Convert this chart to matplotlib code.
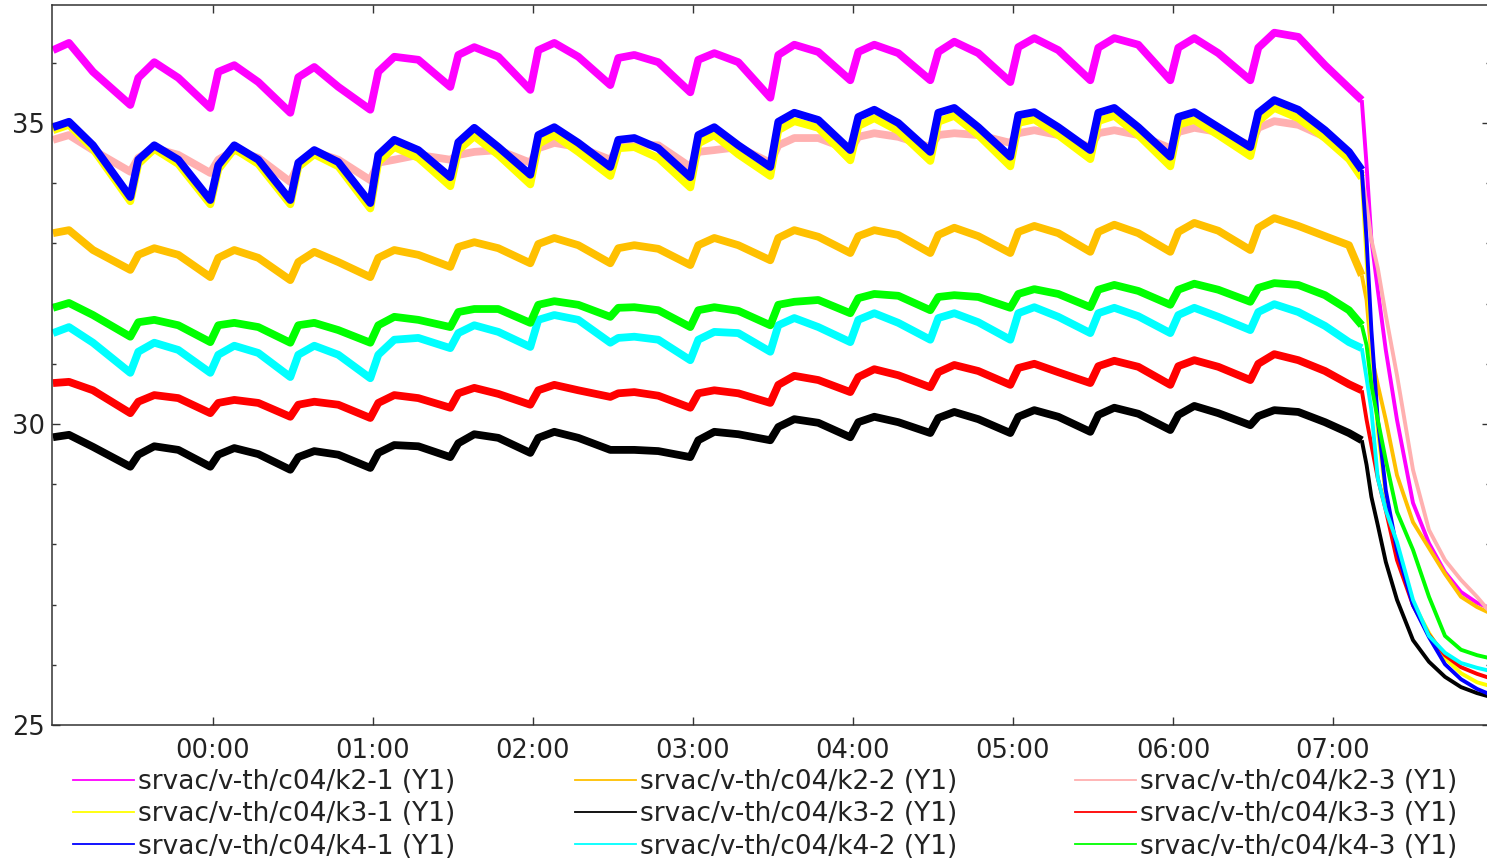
import matplotlib
matplotlib.use("Agg")
import matplotlib.pyplot as plt
import matplotlib.dates as mdates
from matplotlib.ticker import MultipleLocator, FixedLocator
from matplotlib.lines import Line2D
from datetime import datetime

# ---------------- data ----------------
times = ["23:00:00", "23:06:00", "23:15:00",
         "23:29:00", "23:32:00", "23:38:00", "23:47:00",
         "23:59:00", "00:02:00", "00:08:00", "00:17:00",
         "00:29:00", "00:32:00", "00:38:00", "00:47:00",
         "00:59:00", "01:02:00", "01:08:00", "01:17:00",
         "01:29:00", "01:32:00", "01:38:00", "01:47:00",
         "01:59:00", "02:02:00", "02:08:00", "02:17:00",
         "02:29:00", "02:32:00", "02:38:00", "02:47:00",
         "02:59:00", "03:02:00", "03:08:00", "03:17:00",
         "03:29:00", "03:32:00", "03:38:00", "03:47:00",
         "03:59:00", "04:02:00", "04:08:00", "04:17:00",
         "04:29:00", "04:32:00", "04:38:00", "04:47:00",
         "04:59:00", "05:02:00", "05:08:00", "05:17:00",
         "05:29:00", "05:32:00", "05:38:00", "05:47:00",
         "05:59:00", "06:02:00", "06:08:00", "06:17:00",
         "06:29:00", "06:32:00", "06:38:00", "06:47:00", "06:57:00", "07:06:00",
         "07:10:48", "07:12:36", "07:14:24", "07:16:48", "07:19:48", "07:24:00",
         "07:30:00", "07:36:00", "07:42:00", "07:48:00", "07:54:00", "07:58:48"]

k2_1 = [36.21, 36.33, 35.85,
        35.30, 35.75, 36.01, 35.75,
        35.25, 35.85, 35.96, 35.68,
        35.17, 35.76, 35.93, 35.60,
        35.22, 35.85, 36.10, 36.05,
        35.60, 36.13, 36.26, 36.10,
        35.55, 36.21, 36.33, 36.10,
        35.63, 36.08, 36.13, 36.01,
        35.51, 36.05, 36.16, 36.01,
        35.42, 36.13, 36.30, 36.18,
        35.71, 36.18, 36.30, 36.16,
        35.71, 36.18, 36.35, 36.16,
        35.68, 36.26, 36.41, 36.21,
        35.71, 36.25, 36.41, 36.30,
        35.71, 36.25, 36.41, 36.16,
        35.71, 36.25, 36.50, 36.43, 35.96, 35.58,
        35.38, 34.30, 33.06, 32.23, 31.23, 30.07, 28.69, 28.02, 27.54, 27.21, 27.03, 26.94]

k2_2 = [33.17, 33.22, 32.89,
        32.56, 32.81, 32.92, 32.81,
        32.44, 32.76, 32.89, 32.76,
        32.39, 32.69, 32.86, 32.69,
        32.44, 32.76, 32.89, 32.81,
        32.61, 32.94, 33.02, 32.92,
        32.67, 32.99, 33.09, 32.97,
        32.67, 32.92, 32.97, 32.91,
        32.64, 32.97, 33.09, 32.97,
        32.72, 33.09, 33.22, 33.11,
        32.84, 33.12, 33.22, 33.14,
        32.84, 33.14, 33.26, 33.12,
        32.84, 33.19, 33.29, 33.17,
        32.86, 33.19, 33.31, 33.17,
        32.86, 33.19, 33.34, 33.21,
        32.89, 33.26, 33.42, 33.29, 33.12, 32.97,
        32.47, 32.06, 31.15, 30.65, 30.07, 29.15, 28.37, 27.94, 27.51, 27.13, 26.96, 26.86]

k2_3 = [34.72, 34.80, 34.55,
        34.19, 34.42, 34.58, 34.47,
        34.17, 34.39, 34.55, 34.42,
        34.02, 34.30, 34.52, 34.39,
        34.05, 34.34, 34.39, 34.47,
        34.39, 34.47, 34.52, 34.55,
        34.34, 34.58, 34.67, 34.60,
        34.39, 34.60, 34.63, 34.63,
        34.27, 34.52, 34.55, 34.60,
        34.34, 34.63, 34.75, 34.75,
        34.55, 34.77, 34.83, 34.77,
        34.60, 34.80, 34.83, 34.80,
        34.67, 34.83, 34.88, 34.80,
        34.60, 34.83, 34.88, 34.80,
        34.58, 34.85, 34.92, 34.85,
        34.63, 34.92, 35.03, 34.97, 34.77, 34.47,
        34.14, 33.64, 33.06, 32.59, 31.81, 30.81, 29.24, 28.24, 27.74, 27.41, 27.13, 26.88]

k3_1 = [34.88, 34.97, 34.57,
        33.70, 34.32, 34.57, 34.32,
        33.65, 34.23, 34.57, 34.32,
        33.65, 34.27, 34.48, 34.28,
        33.58, 34.35, 34.60, 34.42,
        33.95, 34.55, 34.78, 34.47,
        33.98, 34.65, 34.80, 34.52,
        34.12, 34.58, 34.60, 34.42,
        33.93, 34.66, 34.80, 34.48,
        34.12, 34.88, 35.03, 34.92,
        34.38, 34.95, 35.08, 34.87,
        34.37, 35.02, 35.12, 34.80,
        34.28, 35.00, 35.06, 34.80,
        34.40, 35.03, 35.12, 34.80,
        34.28, 34.97, 35.05, 34.80,
        34.45, 35.03, 35.25, 35.08, 34.75, 34.40,
        34.09, 32.72, 31.31, 29.90, 28.82, 27.87, 27.03, 26.53, 26.11, 25.86, 25.71, 25.65]

k3_2 = [29.78, 29.82, 29.62,
        29.29, 29.49, 29.63, 29.57,
        29.29, 29.49, 29.60, 29.50,
        29.24, 29.45, 29.55, 29.49,
        29.27, 29.52, 29.65, 29.63,
        29.45, 29.68, 29.83, 29.77,
        29.52, 29.77, 29.87, 29.77,
        29.57, 29.57, 29.57, 29.55,
        29.45, 29.73, 29.87, 29.83,
        29.73, 29.95, 30.08, 30.02,
        29.78, 30.03, 30.12, 30.03,
        29.85, 30.10, 30.20, 30.08,
        29.85, 30.12, 30.23, 30.12,
        29.87, 30.15, 30.27, 30.17,
        29.90, 30.15, 30.30, 30.18,
        29.98, 30.13, 30.23, 30.20, 30.03, 29.85,
        29.73, 29.32, 28.79, 28.32, 27.71, 27.08, 26.41, 26.05, 25.80, 25.63, 25.53, 25.47]

k3_3 = [30.68, 30.70, 30.56,
        30.18, 30.37, 30.48, 30.43,
        30.18, 30.35, 30.40, 30.35,
        30.12, 30.32, 30.37, 30.32,
        30.10, 30.35, 30.48, 30.43,
        30.27, 30.51, 30.60, 30.50,
        30.32, 30.56, 30.65, 30.56,
        30.45, 30.51, 30.53, 30.47,
        30.27, 30.51, 30.56, 30.51,
        30.35, 30.65, 30.80, 30.73,
        30.53, 30.78, 30.91, 30.81,
        30.61, 30.86, 30.98, 30.88,
        30.65, 30.93, 31.00, 30.86,
        30.68, 30.96, 31.05, 30.95,
        30.65, 30.96, 31.06, 30.95,
        30.73, 31.00, 31.16, 31.06, 30.88, 30.66,
        30.56, 30.07, 29.65, 29.10, 28.57, 27.74, 26.99, 26.50, 26.16, 25.96, 25.85, 25.78]

k4_1 = [34.93, 35.02, 34.63,
        33.77, 34.39, 34.63, 34.39,
        33.72, 34.30, 34.63, 34.39,
        33.72, 34.34, 34.55, 34.35,
        33.67, 34.47, 34.72, 34.55,
        34.10, 34.68, 34.92, 34.60,
        34.14, 34.80, 34.93, 34.67,
        34.27, 34.72, 34.75, 34.58,
        34.10, 34.80, 34.93, 34.63,
        34.27, 35.02, 35.17, 35.05,
        34.55, 35.10, 35.22, 35.00,
        34.52, 35.17, 35.25, 34.93,
        34.44, 35.13, 35.18, 34.93,
        34.55, 35.17, 35.25, 34.93,
        34.44, 35.10, 35.18, 34.93,
        34.60, 35.17, 35.38, 35.22, 34.88, 34.52,
        34.22, 33.06, 31.56, 30.07, 28.90, 27.91, 26.99, 26.46, 26.01, 25.76, 25.60, 25.51]

k4_2 = [31.51, 31.61, 31.35,
        30.85, 31.20, 31.35, 31.23,
        30.85, 31.15, 31.30, 31.18,
        30.78, 31.15, 31.30, 31.15,
        30.76, 31.15, 31.40, 31.43,
        31.26, 31.51, 31.64, 31.53,
        31.28, 31.73, 31.81, 31.73,
        31.35, 31.43, 31.45, 31.40,
        31.06, 31.40, 31.53, 31.51,
        31.20, 31.64, 31.76, 31.61,
        31.36, 31.73, 31.84, 31.68,
        31.40, 31.76, 31.84, 31.69,
        31.40, 31.84, 31.94, 31.78,
        31.51, 31.84, 31.93, 31.79,
        31.51, 31.81, 31.93, 31.78,
        31.56, 31.86, 31.99, 31.86, 31.63, 31.36,
        31.26, 30.76, 30.23, 29.10, 28.57, 28.04, 27.08, 26.48, 26.20, 26.03, 25.95, 25.90]

k4_3 = [31.93, 32.01, 31.81,
        31.45, 31.69, 31.73, 31.64,
        31.36, 31.64, 31.68, 31.61,
        31.35, 31.64, 31.68, 31.56,
        31.35, 31.64, 31.78, 31.73,
        31.61, 31.86, 31.91, 31.91,
        31.68, 31.98, 32.04, 31.98,
        31.78, 31.93, 31.94, 31.89,
        31.61, 31.89, 31.94, 31.88,
        31.64, 31.98, 32.03, 32.06,
        31.84, 32.09, 32.16, 32.13,
        31.89, 32.11, 32.14, 32.11,
        31.93, 32.16, 32.24, 32.16,
        31.94, 32.23, 32.31, 32.21,
        31.98, 32.23, 32.33, 32.23,
        32.03, 32.26, 32.34, 32.31, 32.14, 31.89,
        31.64, 31.31, 30.65, 30.07, 29.40, 28.54, 27.91, 27.13, 26.48, 26.25, 26.16, 26.11]

labels = ["srvac/v-th/c04/k2-1 (Y1)", "srvac/v-th/c04/k2-2 (Y1)", "srvac/v-th/c04/k2-3 (Y1)",
          "srvac/v-th/c04/k3-1 (Y1)", "srvac/v-th/c04/k3-2 (Y1)", "srvac/v-th/c04/k3-3 (Y1)",
          "srvac/v-th/c04/k4-1 (Y1)", "srvac/v-th/c04/k4-2 (Y1)", "srvac/v-th/c04/k4-3 (Y1)"]
series = [k2_1, k2_2, k2_3, k3_1, k3_2, k3_3, k4_1, k4_2, k4_3]
colors = ["#ff00ff", "#ffc000", "#ffb0b0", "#ffff00", "#000000", "#ff0000",
          "#0000ff", "#00ffff", "#00ff00"]
y_ticks = [25, 30, 35]
x_tick_hours = [0, 1, 2, 3, 4, 5, 6, 7]


def to_dt(s):
    parts = [int(p) for p in s.split(":")]
    h, m = parts[0], parts[1]
    sec = parts[2] if len(parts) > 2 else 0
    day = 1 if h >= 12 else 2
    return datetime(2024, 1, day, h, m, sec)


t = [to_dt(s) for s in times]
drop_i = times.index("07:10:48")

# ---------------- figure ----------------
W, H = 1487, 859
fig = plt.figure(figsize=(W / 100, H / 100), dpi=100)
ax = fig.add_axes([52 / W, 1 - 725 / H, (1490 - 52) / W, 720 / H])

for vals, c in zip(series, colors):
    ax.plot(t[:drop_i + 1], vals[:drop_i + 1], color=c, lw=5.6,
            solid_joinstyle="round", solid_capstyle="butt")
    ax.plot(t[drop_i:], vals[drop_i:], color=c, lw=2.8,
            solid_joinstyle="round", solid_capstyle="butt")

ax.set_ylim(25, 36.96)
ax.yaxis.set_major_locator(FixedLocator(y_ticks))
ax.yaxis.set_minor_locator(MultipleLocator(1))
ax.set_xlim(datetime(2024, 1, 1, 22, 59, 38), datetime(2024, 1, 2, 7, 58, 53))
ax.xaxis.set_major_locator(mdates.HourLocator(byhour=x_tick_hours))
ax.xaxis.set_major_formatter(mdates.DateFormatter("%H:%M"))

for sp in ax.spines.values():
    sp.set_color("#333333")
    sp.set_linewidth(1.1)

ax.tick_params(which="both", direction="in", top=True, right=True,
               color="#333333", width=1.0)
ax.tick_params(which="major", length=6, labelsize=18.5, labelcolor="#222222")
ax.tick_params(which="minor", length=3)
ax.tick_params(axis="x", pad=9)
ax.tick_params(axis="y", pad=5)

# ---------------- legend (3 columns) ----------------
handles = [Line2D([], [], color=c, lw=1.3) for c in colors]
col_x = [73, 575, 1075]
for ci in range(3):
    idx = [ci, ci + 3, ci + 6]
    leg = fig.legend([handles[i] for i in idx], [labels[i] for i in idx],
                     loc="upper left", bbox_to_anchor=(col_x[ci] / W, 1 - 769 / H),
                     frameon=False, fontsize=19, handlelength=2.3,
                     handletextpad=0.15, labelspacing=0.24, borderpad=0,
                     borderaxespad=0)
    for txt in leg.get_texts():
        txt.set_color("#222222")

fig.savefig("out.png", dpi=100)
